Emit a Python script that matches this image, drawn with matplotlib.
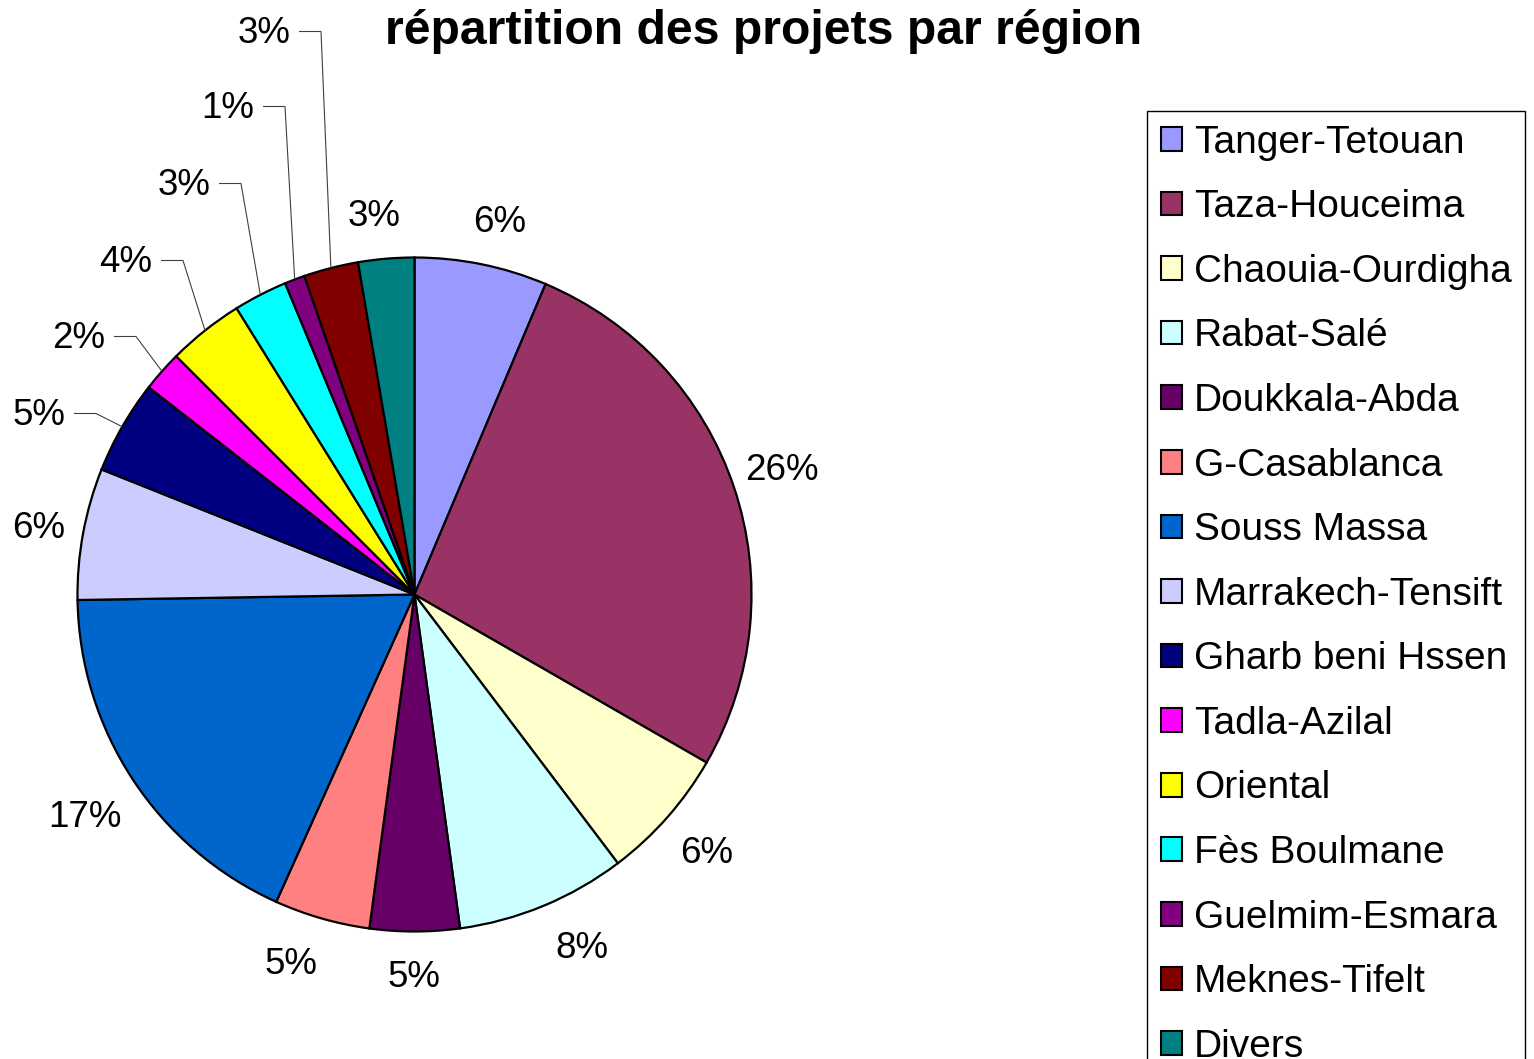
import numpy as np
import matplotlib
matplotlib.use("Agg")
import matplotlib.pyplot as plt
from matplotlib.patches import Patch

plt.rcParams['font.family'] = ['Liberation Sans', 'DejaVu Sans']

regions = ["Tanger-Tetouan", "Taza-Houceima", "Chaouia-Ourdigha", "Rabat-Salé",
           "Doukkala-Abda", "G-Casablanca", "Souss Massa", "Marrakech-Tensift",
           "Gharb beni Hssen", "Tadla-Azilal", "Oriental", "Fès Boulmane",
           "Guelmim-Esmara", "Meknes-Tifelt", "Divers"]
# slice sizes
shares = [6.36, 26.95, 6.38, 8.15, 4.30, 4.59, 18.01, 6.31, 4.49, 1.96,
          3.65, 2.58, 0.97, 2.62, 2.68]
# percentage labels as printed on the chart
pct_labels = ["6%", "26%", "6%", "8%", "5%", "5%", "17%", "6%", "5%", "2%",
              "4%", "3%", "1%", "3%", "3%"]
colors = ["#9999FF", "#993366", "#FFFFCC", "#CCFFFF", "#660066", "#FF8080",
          "#0066CC", "#CCCCFF", "#000080", "#FF00FF", "#FFFF00", "#00FFFF",
          "#800080", "#800000", "#008080"]
title = "répartition des projets par région"

# label anchor positions in pixels (centre x, baseline y)
label_px = [(500, 232), (782, 480), (707, 863), (582, 958), (414, 987),
            (291, 974), (85, 827), (39, 538), (39, 425), (79, 348),
            (126, 272), (184, 195), (228, 118), (264, 43), (374, 226)]
leader = [False] * 8 + [True] * 6 + [False]

W, H = 1534, 1059
DPI = 100
fig = plt.figure(figsize=(W / DPI, H / DPI), dpi=DPI)
fig.patch.set_facecolor("white")

cx, cy, R = 414.5, 594.5, 337
ax = fig.add_axes([0, 0, 1, 1])

wedges, _ = ax.pie(shares, colors=colors, startangle=90, counterclock=False,
                   radius=1.0, center=(0, 0),
                   wedgeprops=dict(edgecolor="black", linewidth=1.6))
ax.set_xlim(-cx / R, (W - cx) / R)
ax.set_ylim((cy - H) / R, cy / R)
ax.set_aspect("auto")
ax.axis("off")


def px2d(px, py):
    return (px - cx) / R, (cy - py) / R


total = sum(shares)
fs_lab = 26.5
cum = 0.0
for i, v in enumerate(shares):
    mid = (cum + v / 2) / total * 2 * np.pi
    cum += v
    tx, ty = px2d(*label_px[i])
    ax.text(tx, ty, pct_labels[i], ha="center", va="baseline", fontsize=fs_lab)
    if leader[i]:
        half_w = (26 if len(pct_labels[i]) == 2 else 37)
        ex, ey = np.sin(mid), np.cos(mid)
        lx0 = label_px[i][0] + half_w + 9
        lx1 = lx0 + 22
        ly = label_px[i][1] - 11.5
        x0, y0 = px2d(lx0, ly)
        x1, _ = px2d(lx1, ly)
        ax.plot([x0, x1, ex], [y0, y0, ey], color="#404040", lw=0.8,
                solid_joinstyle="miter", solid_capstyle="butt")

fig.text(764 / W, 1 - 44 / H, title, ha="center", va="baseline",
         fontsize=34.7, fontweight="bold")

handles = [Patch(facecolor=c, edgecolor="black", linewidth=1.5) for c in colors]
leg = fig.legend(handles, regions, loc="upper left",
                 bbox_to_anchor=(1147 / W, 1 - 111 / H),
                 fontsize=28, frameon=True, fancybox=False, framealpha=1,
                 edgecolor="black", borderpad=0.35, labelspacing=0.735,
                 handlelength=0.56, handleheight=0.56, handletextpad=0.29,
                 borderaxespad=0)
leg.get_frame().set_linewidth(1.0)

fig.savefig("out.png", dpi=DPI, facecolor="white")
